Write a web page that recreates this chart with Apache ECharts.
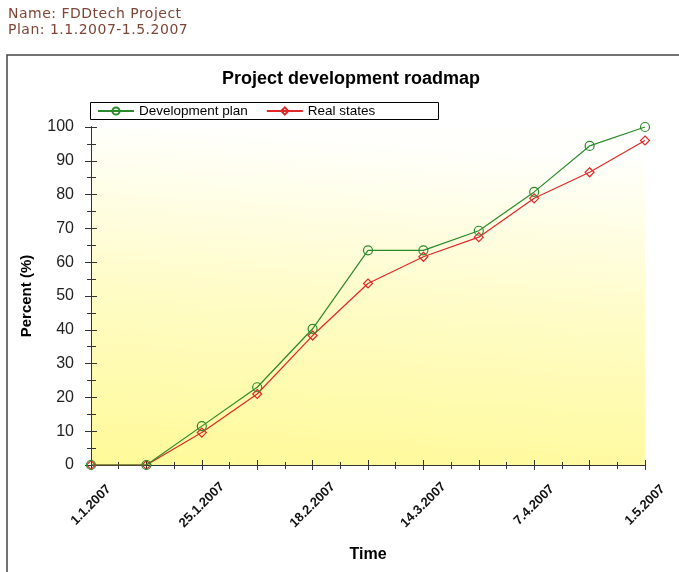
<!DOCTYPE html>
<html>
<head>
<meta charset="utf-8">
<script src="https://cdn.jsdelivr.net/npm/echarts@6/dist/echarts.min.js"></script>
<style>
  html, body { margin: 0; padding: 0; background: #fff; }
  #header { position: absolute; left: 8px; top: 5px; font: 14px "DejaVu Sans", sans-serif; color: #7d4535; line-height: 16px; letter-spacing: 0.5px; }
  #chart { width: 679px; height: 572px; }
</style>
</head>
<body>
<div id="chart"></div>
<div id="header">Name: FDDtech Project<br>Plan: 1.1.2007-1.5.2007</div>
<script>
// dates 12 days apart, 1.1.2007 .. 1.5.2007
const dates = ["1.1.2007", "13.1.2007", "25.1.2007", "6.2.2007", "18.2.2007", "2.3.2007",
  "14.3.2007", "26.3.2007", "7.4.2007", "19.4.2007", "1.5.2007"];
const planValues = [0, 0, 11.5, 23, 40.3, 63.5, 63.5, 69.3, 80.8, 94.4, 100];
const realValues = [0, 0, 9.6, 21, 38.3, 53.7, 61.6, 67.4, 78.9, 86.6, 96];
const percentTicks = [0, 10, 20, 30, 40, 50, 60, 70, 80, 90, 100];

const chart = echarts.init(document.getElementById("chart"));

const axisColor = "#333";
const font = "Liberation Sans, Arial, sans-serif";

const xBase = {
  type: "value",
  min: 0,
  max: dates.length - 1,
  interval: 1,
  splitLine: { show: false },
  axisLine: { lineStyle: { color: axisColor } },
};
const yBase = {
  type: "value",
  min: percentTicks[0],
  max: percentTicks[percentTicks.length - 1],
  interval: percentTicks[1] - percentTicks[0],
  splitLine: { show: false },
  axisLine: { show: true, lineStyle: { color: axisColor } },
};

let option = {
  animation: false,
  title: {
    text: "Project development roadmap",
    left: 346,
    textAlign: "center",
    top: 65,
    textStyle: { fontFamily: font, fontSize: 18, fontWeight: "bold", color: "#000" },
  },
  graphic: [
    { type: "rect", shape: { x: 7, y: 55, width: 700, height: 600 },
      style: { fill: null, stroke: "#444", lineWidth: 1.5 }, z: -1 },
    { type: "rect", shape: { x: 90.5, y: 102.5, width: 348, height: 17 },
      style: { fill: "#fff", stroke: "#000", lineWidth: 1 }, z: 0 },
  ],
  legend: {
    left: 97,
    top: 104,
    itemWidth: 36,
    itemHeight: 9,
    itemGap: 18,
    padding: 0,
    z: 5,
    textStyle: { fontFamily: font, fontSize: 13.5, color: "#000" },
    data: ["Development plan", "Real states"],
  },
  grid: {
    left: 91, right: 34, top: 127, bottom: 107,
    show: true,
    borderWidth: 0,
    backgroundColor: new echarts.graphic.LinearGradient(0, 1, 0.04, 0, [
      { offset: 0, color: "#fffa98" },
      { offset: 0.5, color: "#fffcc4" },
      { offset: 1, color: "#fffffb" },
    ]),
  },
  xAxis: [
    Object.assign({}, xBase, {
      position: "bottom",
      name: "Time",
      nameLocation: "middle",
      nameGap: 82,
      nameTextStyle: { fontFamily: font, fontSize: 16, fontWeight: "bold", color: "#000" },
      axisTick: { show: true, length: 5, lineStyle: { color: axisColor } },
      minorTick: { show: true, splitNumber: 2, length: 3, lineStyle: { color: axisColor } },
      axisLabel: {
        rotate: 45,
        align: "center",
        verticalAlign: "middle",
        margin: 40,
        fontFamily: font,
        fontSize: 13,
        fontWeight: "bold",
        color: "#111",
        formatter: (v) => (v % 2 === 0 ? dates[v] : ""),
      },
    }),
    Object.assign({}, xBase, {
      position: "bottom",
      axisTick: { show: true, inside: true, length: 5, lineStyle: { color: axisColor } },
      minorTick: { show: true, splitNumber: 2, length: 3, lineStyle: { color: axisColor } },
      axisLabel: { show: false },
    }),
    Object.assign({}, xBase, {
      position: "top",
      axisTick: { show: true, inside: true, length: 5, lineStyle: { color: axisColor } },
      minorTick: { show: true, splitNumber: 2, length: 4, lineStyle: { color: axisColor } },
      axisLabel: { show: false },
    }),
  ],
  yAxis: [
    Object.assign({}, yBase, {
      position: "left",
      name: "Percent (%)",
      nameLocation: "middle",
      nameGap: 57,
      nameTextStyle: { fontFamily: font, fontSize: 15, fontWeight: "bold", color: "#000" },
      axisTick: { show: true, length: 6, lineStyle: { color: axisColor } },
      minorTick: { show: true, splitNumber: 2, length: 4, lineStyle: { color: axisColor } },
      axisLabel: { margin: 17, fontFamily: font, fontSize: 16, color: "#222" },
    }),
    Object.assign({}, yBase, {
      position: "left",
      axisTick: { show: true, inside: true, length: 6, lineStyle: { color: axisColor } },
      minorTick: { show: true, splitNumber: 2, length: 4, lineStyle: { color: axisColor } },
      axisLabel: { show: false },
    }),
    Object.assign({}, yBase, {
      position: "right",
      axisTick: { show: true, length: 5, lineStyle: { color: axisColor } },
      minorTick: { show: true, splitNumber: 2, length: 5, lineStyle: { color: axisColor } },
      axisLabel: { show: false },
    }),
  ],
  series: [
    {
      name: "Development plan",
      type: "line",
      data: planValues.map((v, i) => [i, v]),
      symbol: "circle",
      symbolSize: 9,
      color: "#2a8a2a",
      lineStyle: { width: 1.2, color: "#2a8a2a" },
      itemStyle: { color: "rgba(0,0,0,0)", borderColor: "#2a8a2a", borderWidth: 1.2 },
      z: 3,
    },
    {
      name: "Real states",
      type: "line",
      data: realValues.map((v, i) => [i, v]),
      symbol: "diamond",
      symbolSize: 9,
      color: "#e02828",
      lineStyle: { width: 1.2, color: "#e02828" },
      itemStyle: { color: "rgba(0,0,0,0)", borderColor: "#e02828", borderWidth: 1.2 },
      z: 2,
    },
  ],
};

chart.setOption(option);
</script>
</body>
</html>
